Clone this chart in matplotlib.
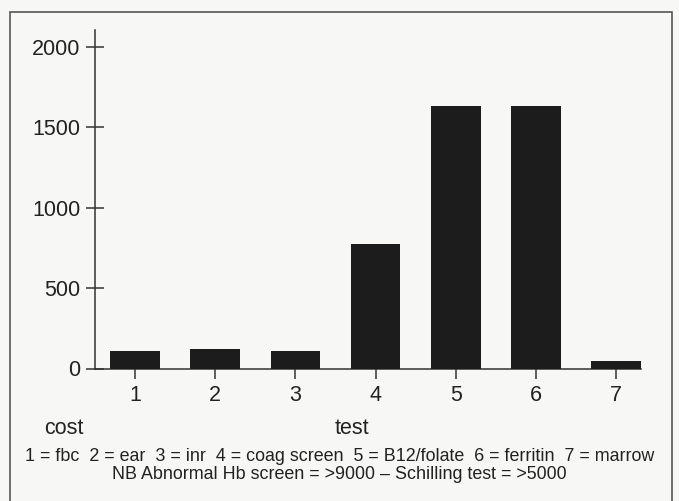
import matplotlib
matplotlib.use("Agg")
import matplotlib.pyplot as plt
from matplotlib.patches import Rectangle

tests = [1, 2, 3, 4, 5, 6, 7]
costs = [110, 120, 110, 775, 1630, 1630, 47]
yticks = [0, 500, 1000, 1500, 2000]
legend_line1 = "1 = fbc  2 = ear  3 = inr  4 = coag screen  5 = B12/folate  6 = ferritin  7 = marrow"
legend_line2 = "NB Abnormal Hb screen = >9000 \u2013 Schilling test = >5000"

plt.rcParams['font.family'] = ['Liberation Sans', 'DejaVu Sans']

W, H = 679, 501
fig = plt.figure(figsize=(W / 100, H / 100), dpi=100)
bg = '#f7f7f5'
fig.patch.set_facecolor(bg)

# outer frame
fig.patches.append(Rectangle((9.5 / W, -0.05), (671.5 - 9.5) / W, 1.05 - 12 / H,
                             transform=fig.transFigure, fill=False,
                             edgecolor='#555555', linewidth=1.2))

left, right = 95 / W, 641 / W
bottom, top = (H - 368.5) / H, (H - 30) / H
ax = fig.add_axes([left, bottom, right - left, top - bottom])
ax.set_facecolor('none')

ax.bar(tests, costs, width=0.62, color='#1c1c1c', zorder=3)
ax.set_xlim(0.5, 7.31)
ax.set_ylim(0, 2105)

for s in ['top', 'right']:
    ax.spines[s].set_visible(False)
for s in ['left', 'bottom']:
    ax.spines[s].set_color('#333333')
    ax.spines[s].set_linewidth(1.1)

ax.set_yticks(yticks)
ax.set_xticks(tests)
ax.tick_params(axis='y', direction='inout', length=13, width=1.1, pad=4,
               labelsize=15.5, color='#333333', labelcolor='#222222')
ax.tick_params(axis='x', direction='out', length=7, width=1.1, pad=5,
               labelsize=15.5, color='#333333', labelcolor='#222222')

fig.text(64 / W, 1 - 434 / H, "cost", ha='center', va='baseline', fontsize=15.5, color='#222222')
fig.text(352 / W, 1 - 434 / H, "test", ha='center', va='baseline', fontsize=15.5, color='#222222')
fig.text(340 / W, 1 - 461 / H, legend_line1, ha='center', va='baseline', fontsize=12.9, color='#222222')
fig.text(339 / W, 1 - 479 / H, legend_line2, ha='center', va='baseline', fontsize=12.9, color='#222222')

fig.savefig('out.png', dpi=100, facecolor=bg)
